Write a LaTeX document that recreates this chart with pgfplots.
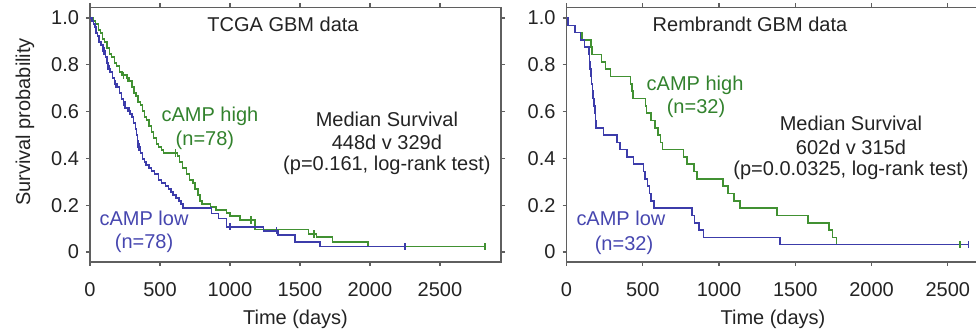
\documentclass[border=0pt]{standalone}
\usepackage{pgfplots}
\pgfplotsset{compat=1.18}
\usepackage{fontspec}
\setmainfont{Liberation Sans}
\definecolor{kmgreen}{RGB}{65,145,50}
\definecolor{kmblue}{RGB}{60,60,170}
\definecolor{txtgreen}{RGB}{50,130,45}
\definecolor{txtblue}{RGB}{70,70,175}
\definecolor{axgray}{RGB}{95,95,95}
\definecolor{txt}{RGB}{35,35,35}
\pgfplotsset{
  kmstyle/.style={
    scale only axis,
    anchor=south west,
    height=127.25pt,
    ymin=-0.0427, ymax=1.045,
    xmin=0,
    ytick={0,0.2,0.4,0.6,0.8,1.0},
    yticklabels={0,0.2,0.4,0.6,0.8,1.0},
    xtick={0,500,1000,1500,2000,2500},
    tick align=outside,
    major tick length=2pt,
    axis line style={axgray, line width=0.6pt},
    every tick/.style={axgray, line width=0.6pt},
    tick label style={font=\fontsize{10}{12}\selectfont, text=txt},
    /pgf/number format/assume math mode=true,
    scaled x ticks=false,
    xticklabel style={/pgf/number format/set thousands separator={}, yshift=-4.5pt},
    clip mode=individual,
    every axis plot/.append style={line width=0.8pt},
  }
}
\begin{document}
\begin{tikzpicture}
\fontsize{10}{12}\selectfont
% ---------------- Left: TCGA ----------------
\begin{axis}[kmstyle, at={(45pt,34.5pt)}, width=205.5pt, xmax=2936]
\addplot[kmgreen, const plot] coordinates {
(0,1) (20,0.987) (40,0.974) (60,0.949) (75,0.936) (90,0.910) (105,0.897) (120,0.872)
(140,0.846) (155,0.833) (175,0.808) (190,0.795) (210,0.769) (230,0.756) (260,0.744)
(280,0.731) (300,0.705) (315,0.679) (330,0.667) (345,0.641) (360,0.628) (375,0.603)
(390,0.577) (405,0.564) (420,0.538) (440,0.513) (455,0.487) (475,0.462) (490,0.449)
(510,0.436) (525,0.423) (625,0.410) (640,0.385) (660,0.359) (690,0.333) (710,0.308)
(735,0.295) (750,0.269) (770,0.244) (785,0.218) (800,0.205) (860,0.192) (900,0.179)
(976,0.166) (1000,0.154) (1071,0.137) (1179,0.097) (1560,0.077) (1619,0.063)
(1733,0.043) (1988,0.023) (2821,0.023)};
\addplot[kmblue, const plot] coordinates {
(0,1) (15,0.987) (25,0.974) (35,0.962) (45,0.936) (55,0.923) (65,0.897) (80,0.885)
(95,0.859) (110,0.833) (120,0.808) (130,0.782) (145,0.769) (160,0.744) (175,0.718)
(195,0.705) (210,0.679) (225,0.654) (240,0.628) (255,0.615) (270,0.603) (290,0.590)
(300,0.577) (312,0.551) (325,0.526) (332,0.500) (338,0.474) (345,0.449) (360,0.423)
(375,0.397) (390,0.385) (400,0.372) (420,0.359) (440,0.346) (460,0.333) (490,0.308)
(510,0.295) (540,0.282) (560,0.269) (580,0.256) (595,0.244) (615,0.231) (635,0.218)
(650,0.205) (665,0.187) (869,0.165) (917,0.144) (976,0.108) (1238,0.091) (1343,0.073)
(1464,0.044) (1643,0.023) (2250,0.023)};
\addplot[kmgreen, only marks, mark=|, mark size=1.8pt, mark options={line width=0.6pt}] coordinates {
(240,0.756) (270,0.744) (610,0.423) (1150,0.137) (1600,0.077) (2821,0.023)};
\addplot[kmblue, only marks, mark=|, mark size=1.8pt, mark options={line width=0.6pt}] coordinates {
(100,0.859) (125,0.808) (140,0.782) (180,0.718) (250,0.628) (285,0.603) (350,0.449)
(1000,0.108) (1330,0.091) (2250,0.023)};
\node[text=txt] at (axis cs:1379,0.975) {TCGA GBM data};
\node[text=txtgreen] at (axis cs:857,0.581) {cAMP high};
\node[text=txtgreen] at (axis cs:821,0.479) {(n=78)};
\node[text=txtblue] at (axis cs:386,0.145) {cAMP low};
\node[text=txtblue] at (axis cs:386,0.038) {(n=78)};
\node[text=txt] at (axis cs:2121,0.568) {Median Survival};
\node[text=txt] at (axis cs:2121,0.470) {448d v 329d};
\node[text=txt] at (axis cs:2121,0.372) {(p=0.161, log-rank test)};
\end{axis}
% ---------------- Right: Rembrandt ----------------
\begin{axis}[kmstyle, at={(283.25pt,34.5pt)}, width=205.75pt, xmax=2698]
\addplot[kmgreen, const plot] coordinates {
(0,1) (11,0.96875) (54,0.9375) (100,0.90625) (160,0.875) (168,0.84375) (230,0.8125)
(255,0.78125) (288,0.75) (420,0.71875) (428,0.6875) (436,0.65625) (518,0.625)
(525,0.59375) (555,0.5625) (580,0.53125) (600,0.5) (615,0.46875) (630,0.4375)
(766,0.40625) (790,0.375) (835,0.34375) (856,0.3125) (1025,0.28125) (1060,0.25)
(1100,0.21875) (1137,0.1875) (1380,0.15625) (1582,0.125) (1720,0.09375)
(1745,0.0625) (1770,0.03125) (2580,0.03125)};
\addplot[kmblue, const plot] coordinates {
(0,1) (11,0.96875) (54,0.9375) (91,0.90625) (117,0.875) (146,0.84375) (150,0.8125)
(155,0.78125) (160,0.75) (165,0.71875) (170,0.6875) (175,0.65625) (180,0.625)
(185,0.59375) (190,0.5625) (195,0.53125) (243,0.5) (330,0.46875) (352,0.4375)
(396,0.40625) (440,0.375) (505,0.34375) (515,0.3125) (530,0.28125) (545,0.25)
(555,0.21875) (575,0.1875) (821,0.15625) (840,0.125) (870,0.09375) (897,0.0625)
(1399,0.03125) (2635,0.03125)};
\addplot[kmgreen, only marks, mark=|, mark size=1.8pt, mark options={line width=0.6pt}] coordinates {(2580,0.03125)};
\addplot[kmblue, only marks, mark=|, mark size=1.8pt, mark options={line width=0.6pt}] coordinates {(2635,0.03125)};
\node[text=txt] at (axis cs:1203,0.975) {Rembrandt GBM data};
\node[text=txtgreen] at (axis cs:843,0.714) {cAMP high};
\node[text=txtgreen] at (axis cs:849,0.615) {(n=32)};
\node[text=txtblue] at (axis cs:357,0.145) {cAMP low};
\node[text=txtblue] at (axis cs:377,0.030) {(n=32)};
\node[text=txt] at (axis cs:1865,0.551) {Median Survival};
\node[text=txt] at (axis cs:1865,0.449) {602d v 315d};
\node[text=txt] at (axis cs:1865,0.350) {(p=0.0.0325, log-rank test)};
\end{axis}
% labels
\node[text=txt, rotate=90] at (12.5pt,104.5pt) {Survival probability};
\node[text=txt] at (147.75pt,6pt) {Time (days)};
\node[text=txt] at (386.5pt,6pt) {Time (days)};
\pgfresetboundingbox
\path (0,0) rectangle (488pt,165.5pt);
\end{tikzpicture}
\end{document}
